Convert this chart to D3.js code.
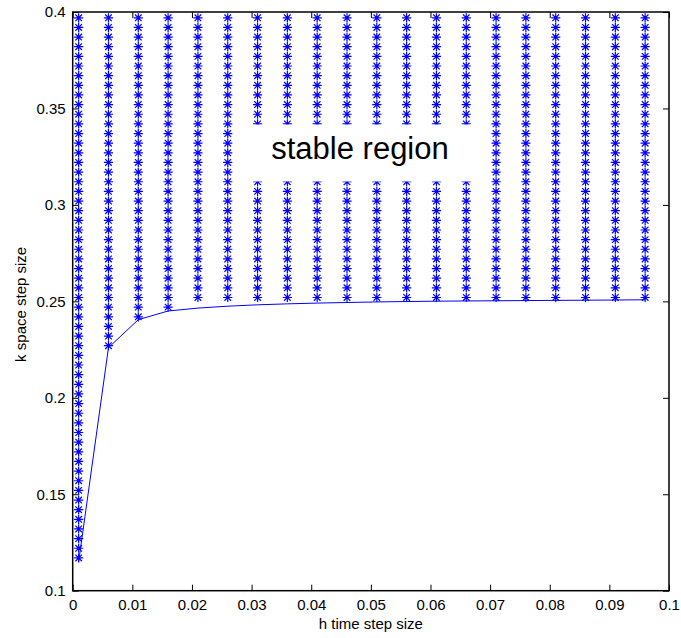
<!DOCTYPE html>
<html>
<head>
<meta charset="utf-8">
<script src="https://cdn.jsdelivr.net/npm/d3@7"></script>
<style>
  html, body { margin: 0; padding: 0; background: #fff; }
  svg { display: block; }
  text { font-family: "Liberation Sans", Arial, Helvetica, sans-serif; fill: #000; }
</style>
</head>
<body>
<svg id="chart" width="681" height="638"></svg>
<script>
// ---- data ----
const hValues = [0.001, 0.006, 0.011, 0.016, 0.021, 0.026, 0.031, 0.036, 0.041, 0.046,
                 0.051, 0.056, 0.061, 0.066, 0.071, 0.076, 0.081, 0.086, 0.091, 0.096];
// lowest stable k marker in each column
const kLowest = [0.117, 0.227, 0.242, 0.247, 0.252, 0.252, 0.252, 0.252, 0.252, 0.252,
                 0.252, 0.252, 0.252, 0.252, 0.252, 0.252, 0.252, 0.252, 0.252, 0.252];
// k grid values tested
const kGrid = [0.117, 0.122, 0.127, 0.132, 0.137, 0.142, 0.147, 0.152, 0.157, 0.162,
               0.167, 0.172, 0.177, 0.182, 0.187, 0.192, 0.197, 0.202, 0.207, 0.212,
               0.217, 0.222, 0.227, 0.232, 0.237, 0.242, 0.247, 0.252, 0.257, 0.262,
               0.267, 0.272, 0.277, 0.282, 0.287, 0.292, 0.297, 0.302, 0.307, 0.312,
               0.317, 0.322, 0.327, 0.332, 0.337, 0.342, 0.347, 0.352, 0.357, 0.362,
               0.367, 0.372, 0.377, 0.382, 0.387, 0.392, 0.397];
// stability boundary curve
const boundaryK = [0.115, 0.226, 0.2405, 0.245, 0.2465, 0.2475, 0.2482, 0.2487, 0.2491, 0.2494,
                   0.2497, 0.2499, 0.2501, 0.2502, 0.2503, 0.2504, 0.2505, 0.2506, 0.2507, 0.2508];
const xTicks = [0, 0.01, 0.02, 0.03, 0.04, 0.05, 0.06, 0.07, 0.08, 0.09, 0.1];
const yTicks = [0.1, 0.15, 0.2, 0.25, 0.3, 0.35, 0.4];
const xLabel = "h time step size";
const yLabel = "k space step size";
const annotation = "stable region";

// ---- layout ----
const L = 72.7, R = 669, T = 12, B = 590.7;
const svg = d3.select("#chart");
const x = d3.scaleLinear().domain([0, 0.1]).range([L, R]);
const y = d3.scaleLinear().domain([0.1, 0.4]).range([B, T]);
const blue = "#0000ff";

// markers
const pts = [];
hValues.forEach((h, i) => {
  kGrid.forEach(k => { if (k >= kLowest[i] - 1e-9) pts.push([h, k]); });
});
const s = 4.6, d = 3.3;
const star = `M${-s},0L${s},0M0,${-s}L0,${s}M${-d},${-d}L${d},${d}M${-d},${d}L${d},${-d}`;
svg.append("g").selectAll("path").data(pts).join("path")
  .attr("transform", p => `translate(${x(p[0])},${y(p[1])})`)
  .attr("d", star)
  .attr("stroke", blue).attr("stroke-width", 1.2).attr("fill", "none");

// boundary line
svg.append("path")
  .datum(hValues.map((h, i) => [h, boundaryK[i]]))
  .attr("d", d3.line().x(p => x(p[0])).y(p => y(p[1])))
  .attr("stroke", blue).attr("stroke-width", 1).attr("fill", "none");

// annotation with white background
svg.append("rect").attr("x", 251).attr("y", 124.5).attr("width", 223).attr("height", 57)
  .attr("fill", "#fff");
svg.append("text").attr("x", 360).attr("y", 159).attr("text-anchor", "middle")
  .attr("font-size", 31).text(annotation);

// axes
const tickLen = 6;
const axB = d3.axisBottom(x).tickValues(xTicks).tickSize(-tickLen).tickPadding(9)
  .tickFormat(d => d === 0 ? "0" : String(+d.toFixed(2)));
const axT = d3.axisTop(x).tickValues(xTicks).tickSize(-tickLen).tickFormat("");
const axL = d3.axisLeft(y).tickValues(yTicks).tickSize(-tickLen).tickPadding(7)
  .tickFormat(d => String(+d.toFixed(2)));
const axR = d3.axisRight(y).tickValues(yTicks).tickSize(-tickLen).tickFormat("");

function style(g) {
  g.select(".domain").remove();
  g.selectAll("line").attr("stroke", "#000").attr("stroke-width", 1);
  g.selectAll("text").attr("font-size", 15).attr("fill", "#000")
    .attr("font-family", '"Liberation Sans", Arial, sans-serif');
}
svg.append("g").attr("transform", `translate(0,${B})`).call(axB).call(style);
svg.append("g").attr("transform", `translate(0,${T})`).call(axT).call(style);
svg.append("g").attr("transform", `translate(${L},0)`).call(axL).call(style);
svg.append("g").attr("transform", `translate(${R},0)`).call(axR).call(style);

// frame
svg.append("rect").attr("x", L).attr("y", T).attr("width", R - L).attr("height", B - T)
  .attr("fill", "none").attr("stroke", "#000").attr("stroke-width", 1.5);

// axis labels
svg.append("text").attr("x", (L + R) / 2).attr("y", 629).attr("text-anchor", "middle")
  .attr("font-size", 15).text(xLabel);
svg.append("text").attr("transform", `translate(26,${(T + B) / 2 + 3}) rotate(-90)`)
  .attr("text-anchor", "middle").attr("font-size", 15).text(yLabel);
</script>
</body>
</html>
